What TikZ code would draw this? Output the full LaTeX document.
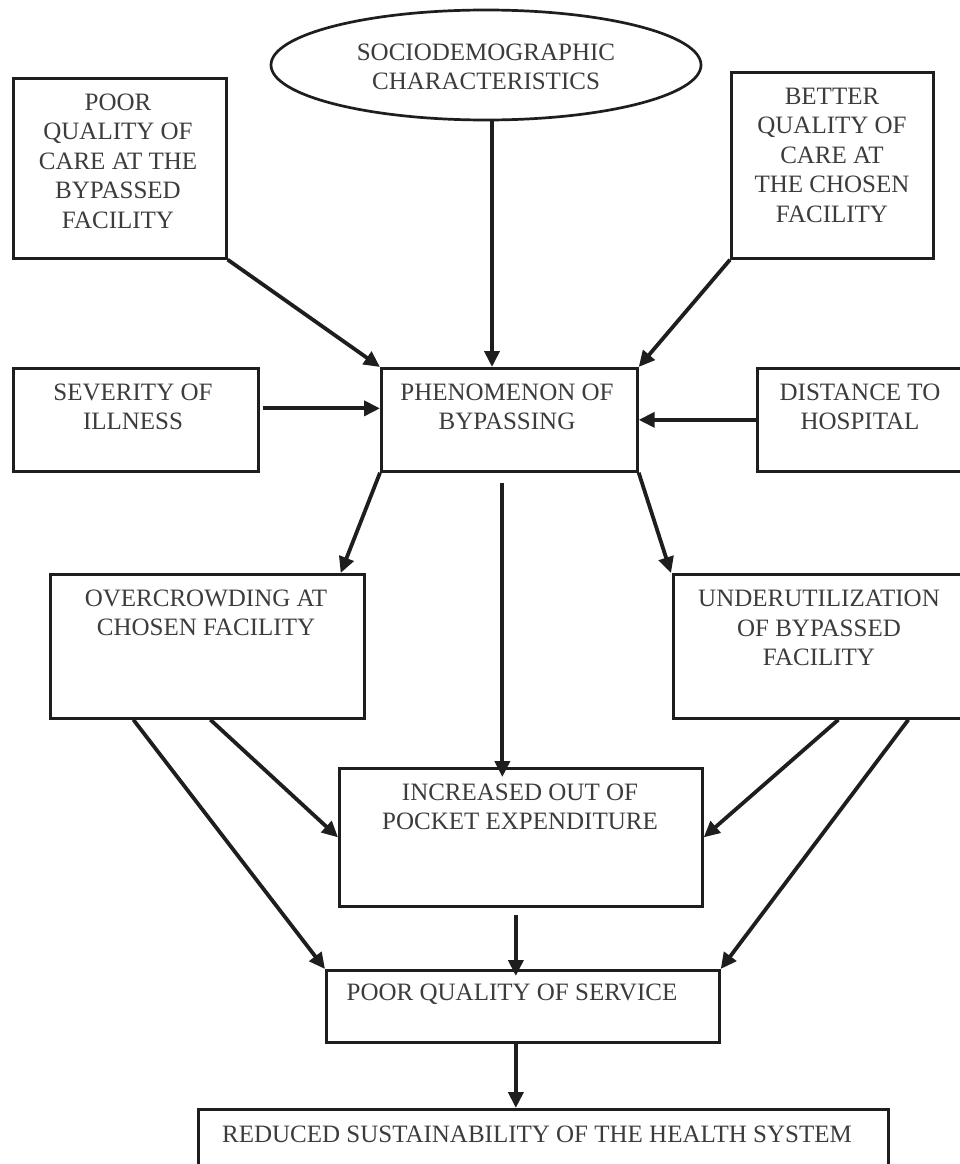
\documentclass[tikz,border=0pt]{standalone}
\usepackage{fontspec}
\setmainfont{Liberation Serif}
\usetikzlibrary{arrows.meta,shapes.geometric}
\definecolor{ln}{HTML}{1E1E1E}
\definecolor{tx}{HTML}{3C3C3C}
\begin{document}
\begin{tikzpicture}[x=1pt,y=-1pt,
  box/.style={draw=ln,line width=2.7pt,rectangle,inner sep=0pt,anchor=north west},
  oval/.style={draw=ln,line width=2.7pt,ellipse,inner sep=0pt,minimum width=430pt,minimum height=110pt},
  txt/.style={text=tx,align=center,font=\fontsize{25}{29.5}\selectfont,inner sep=0pt},
  arr/.style={draw=ln,line width=3.8pt,-{Triangle[length=16pt,width=15pt]}}]
\useasboundingbox (0,0) rectangle (959,1164);
\fill[white] (0,0) rectangle (959,1164);
% shapes
\node[oval] (ell) at (486,65) {};
\node[box,minimum width=213pt,minimum height=180pt] (poor) at (12,77) {};
\node[box,minimum width=202pt,minimum height=186pt] (better) at (730,71) {};
\node[box,minimum width=245pt,minimum height=103pt] (sev) at (12,367) {};
\node[box,minimum width=256pt,minimum height=103pt] (phen) at (380,367) {};
\node[box,minimum width=210pt,minimum height=103pt] (dist) at (756,367) {};
\node[box,minimum width=314pt,minimum height=144pt] (over) at (49,573) {};
\node[box,minimum width=294pt,minimum height=144pt] (under) at (672,573) {};
\node[box,minimum width=363pt,minimum height=138pt] (incr) at (338,767) {};
\node[box,minimum width=393pt,minimum height=72pt] (pqs) at (325,969) {};
\node[box,minimum width=690pt,minimum height=100pt] (red) at (197,1108) {};
% texts
\node[txt] (ellt) at (486,67) {SOCIODEMOGRAPHIC\\CHARACTERISTICS};
\node[txt] (poort) at (118,161) {POOR\\QUALITY OF\\CARE AT THE\\BYPASSED\\FACILITY};
\node[txt] (bettert) at (832,155) {BETTER\\QUALITY OF\\CARE AT\\THE CHOSEN\\FACILITY};
\node[txt] (sevt) at (133,407) {SEVERITY OF\\ILLNESS};
\node[txt] (phent) at (507,407) {PHENOMENON OF\\BYPASSING};
\node[txt] (distt) at (860,407) {DISTANCE TO\\HOSPITAL};
\node[txt] (overt) at (206,613) {OVERCROWDING AT\\CHOSEN FACILITY};
\node[txt] (undert) at (819,628) {UNDERUTILIZATION\\OF BYPASSED\\FACILITY};
\node[txt] (incrt) at (520,807) {INCREASED OUT OF\\POCKET EXPENDITURE};
\node[txt] (pqst) at (512,994) {POOR QUALITY OF SERVICE};
\node[txt] (redt) at (537,1134) {REDUCED SUSTAINABILITY OF THE HEALTH SYSTEM};
% connectors
\draw[arr] ([xshift=6pt]ell.south) -- ([xshift=6pt]ell.south |- phen.north);
\draw[arr] (poor.south east) -- (phen.north west);
\draw[arr] (better.south west) -- (phen.north east);
\draw[arr] ([xshift=3pt,yshift=11.5pt]sev.east) -- ([yshift=11.5pt]sev.east -| phen.west);
\draw[arr] (dist.west) -- (phen.east);
\draw[arr] (phen.south west) -- ([xshift=-25pt]over.north east);
\draw[arr] (phen.south east) -- ([xshift=-1pt]under.north west);
\draw[arr] ([xshift=-7pt,yshift=-10pt]phen.south) -- ([xshift=-7pt,yshift=-10pt]phen.south |- incr.north);
\draw[arr] ([xshift=3pt]over.south) -- (incr.west);
\draw[arr] ([xshift=-74pt]over.south) -- (pqs.north west);
\draw[arr] ([xshift=18pt]under.south) -- (incr.east);
\draw[arr] ([xshift=88pt]under.south) -- (pqs.north east);
\draw[arr] ([xshift=-5pt,yshift=-7pt]incr.south) -- ([xshift=-5pt,yshift=-7pt]incr.south |- pqs.north);
\draw[arr] ([xshift=-7pt]pqs.south) -- ([xshift=-7pt]pqs.south |- red.north);
\end{tikzpicture}
\end{document}
